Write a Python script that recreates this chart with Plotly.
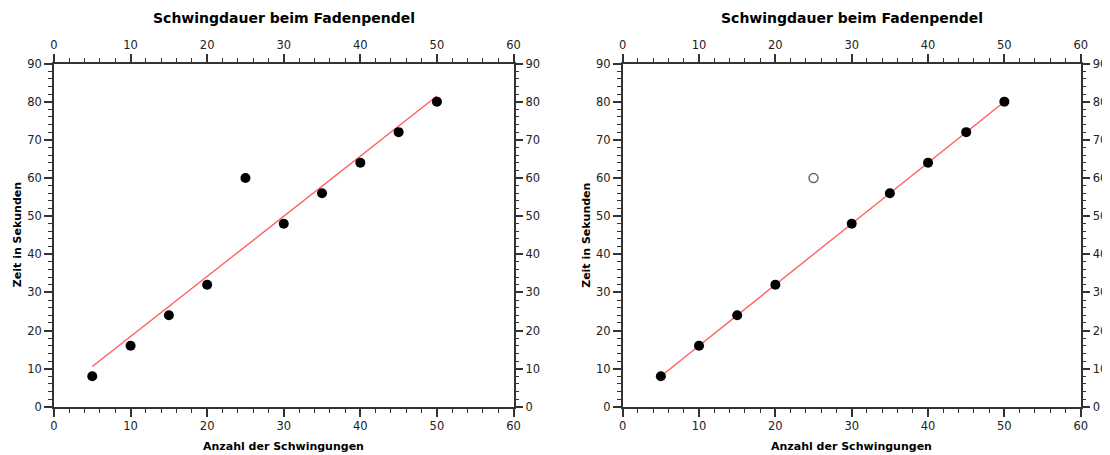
import numpy as np
import plotly.graph_objects as go

# Data
swings = [5, 10, 15, 20, 25, 30, 35, 40, 45, 50]
times = [8, 16, 24, 32, 60, 48, 56, 64, 72, 80]
outlier_index = 4
title_text = "Schwingdauer beim Fadenpendel"
x_title = "Anzahl der Schwingungen"
y_title = "Zeit in Sekunden"

x = np.array(swings, dtype=float)
y = np.array(times, dtype=float)
mask = np.ones(len(x), dtype=bool)
mask[outlier_index] = False

fit_all = np.polyfit(x, y, 1)
fit_clean = np.polyfit(x[mask], y[mask], 1)
xf = np.array([x.min(), x.max()])

FONT = "DejaVu Sans"
AX = "#333333"
TXT = "#222222"

fig = go.Figure()

# Left panel
fig.add_trace(go.Scatter(x=xf, y=np.polyval(fit_all, xf), mode="lines",
                         line=dict(color="#ff5a5a", width=1.3), xaxis="x", yaxis="y", hoverinfo="skip"))
fig.add_trace(go.Scatter(x=x, y=y, mode="markers",
                         marker=dict(color="black", size=10), xaxis="x", yaxis="y"))
# Right panel
fig.add_trace(go.Scatter(x=xf, y=np.polyval(fit_clean, xf), mode="lines",
                         line=dict(color="#ff5a5a", width=1.3), xaxis="x2", yaxis="y2", hoverinfo="skip"))
fig.add_trace(go.Scatter(x=x[mask], y=y[mask], mode="markers",
                         marker=dict(color="black", size=10), xaxis="x2", yaxis="y2"))
fig.add_trace(go.Scatter(x=x[~mask], y=y[~mask], mode="markers",
                         marker=dict(color="white", size=9, line=dict(color="#666666", width=1.5)),
                         xaxis="x2", yaxis="y2"))

# invisible traces for mirror axes
for xa, ya in [("x3", "y3"), ("x4", "y4")]:
    fig.add_trace(go.Scatter(x=[0, 60], y=[0, 90], mode="markers", marker=dict(opacity=0),
                             xaxis=xa, yaxis=ya, hoverinfo="skip"))

# page body has an 8px margin; figure coordinates = screen - 8
OFF = 8
W, H = 1102, 455
yd = [1 - (406.8 - OFF) / H, 1 - (63.5 - OFF) / H]
xdL = [(54 - OFF) / W, (513.5 - OFF) / W]
xdR = [(622.7 - OFF) / W, (1080.7 - OFF) / W]

tickfont = dict(family=FONT, size=11.5, color=TXT)

def xaxis(domain, side, anchor, overlaying=None):
    d = dict(domain=domain, range=[0, 60], dtick=10, tick0=0, side=side, anchor=anchor,
             showgrid=False, zeroline=False, showline=True, linecolor=AX, linewidth=1.5,
             ticks="outside", ticklen=8, tickwidth=1.5, tickcolor=AX, tickfont=tickfont,
             minor=dict(dtick=2, ticks="outside", ticklen=4, tickwidth=1.2, tickcolor=AX),
             fixedrange=True, automargin=False)
    if overlaying:
        d["overlaying"] = overlaying
    return d

def yaxis(side, anchor, overlaying=None):
    d = dict(domain=yd, range=[0, 90], dtick=10, tick0=0, side=side, anchor=anchor,
             showgrid=False, zeroline=False, showline=True, linecolor=AX, linewidth=1.5,
             ticks="outside", ticklen=8, tickwidth=1.5, tickcolor=AX, tickfont=tickfont,
             minor=dict(dtick=2, ticks="outside", ticklen=4, tickwidth=1.2, tickcolor=AX),
             fixedrange=True, automargin=False)
    if overlaying:
        d["overlaying"] = overlaying
    return d

annotations = []
for xd in (xdL, xdR):
    cx = (xd[0] + xd[1]) / 2
    annotations.append(dict(text="<b>" + title_text + "</b>", x=cx, y=1 - (18 - OFF) / H,
                            xref="paper", yref="paper", showarrow=False, xanchor="center",
                            yanchor="middle", font=dict(family=FONT, size=14, color="black")))
    annotations.append(dict(text="<b>" + x_title + "</b>", x=cx, y=1 - (446 - OFF) / H,
                            xref="paper", yref="paper", showarrow=False, xanchor="center",
                            yanchor="middle", font=dict(family=FONT, size=11, color="black")))
    annotations.append(dict(text="<b>" + y_title + "</b>", x=xd[0] - 37 / W, y=(yd[0] + yd[1]) / 2,
                            xref="paper", yref="paper", showarrow=False, xanchor="center",
                            yanchor="middle", textangle=-90,
                            font=dict(family=FONT, size=11, color="black")))

fig.update_layout(
    width=W, height=H,
    margin=dict(l=0, r=0, t=0, b=0, autoexpand=False),
    paper_bgcolor="white", plot_bgcolor="white",
    showlegend=False,
    xaxis=xaxis(xdL, "bottom", "y"),
    yaxis=yaxis("left", "x"),
    xaxis2=xaxis(xdR, "bottom", "y2"),
    yaxis2=yaxis("left", "x2"),
    xaxis3=xaxis(xdL, "top", "y3", overlaying="x"),
    yaxis3=yaxis("right", "x3", overlaying="y"),
    xaxis4=xaxis(xdR, "top", "y4", overlaying="x2"),
    yaxis4=yaxis("right", "x4", overlaying="y2"),
    annotations=annotations,
)

fig.write_html("out.html")
